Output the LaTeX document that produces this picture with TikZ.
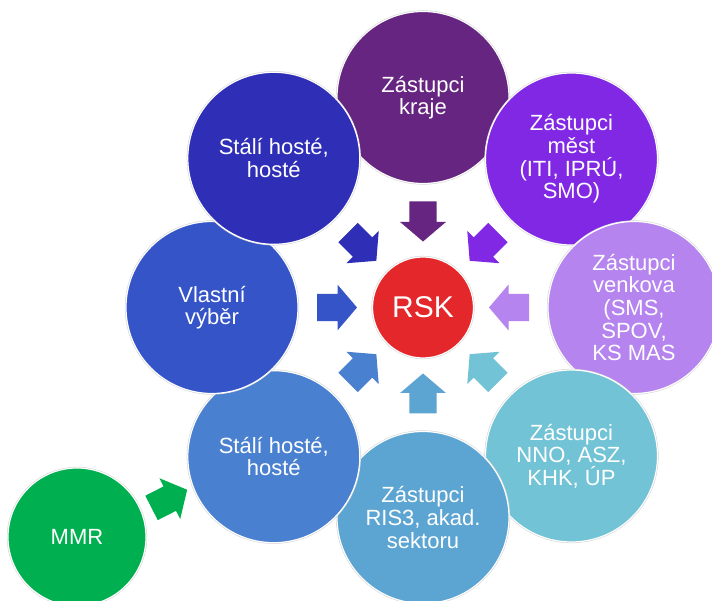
\documentclass[tikz,border=0pt]{standalone}
\usepackage{fontspec}
\setmainfont{Liberation Sans}
\usetikzlibrary{calc}
\definecolor{ckraje}{RGB}{102,37,129}
\definecolor{cmest}{RGB}{129,40,229}
\definecolor{cvenkov}{RGB}{181,132,238}
\definecolor{cnno}{RGB}{114,195,213}
\definecolor{cris}{RGB}{92,165,210}
\definecolor{cstalib}{RGB}{74,128,208}
\definecolor{cvlast}{RGB}{53,84,200}
\definecolor{cstalit}{RGB}{46,46,182}
\definecolor{crsk}{RGB}{228,39,42}
\definecolor{cmmr}{RGB}{0,176,80}
\begin{document}
\begin{tikzpicture}[x=1pt,y=1pt,
  bub/.style={circle, minimum size=172pt, inner sep=0pt, fill=#1, draw=white,
    line width=1.2pt, text=white, align=center,
    font=\fontsize{22}{22.6}\selectfont,
    preaction={draw=black!18, line width=2.2pt}},
  blockarr/.pic={\fill (0,-13.7) -- (20.5,-13.7) -- (20.5,-22.9) -- (40,0)
    -- (20.5,22.9) -- (20.5,13.7) -- (0,13.7) -- cycle;}
]
\useasboundingbox (0,0) rectangle (712,601);
\fill[white] (0,0) rectangle (712,601);
\coordinate (c) at (423,293.5);
% outer ring, drawn clockwise from the top
\node[bub=ckraje] (kraje) at ([shift={(90:210)}]c) {Zástupci\\kraje};
\node[bub=cmest] (mest) at ([shift={(45:210)}]c) {Zástupci\\měst\\(ITI, IPRÚ,\\SMO)};
\node[bub=cvenkov] (venkov) at ([shift={(0:211)}]c) {Zástupci\\venkova\\(SMS,\\SPOV,\\KS MAS};
\node[bub=cnno] (nno) at ([shift={(-45:210)}]c) {Zástupci\\NNO, ASZ,\\KHK, ÚP};
\node[bub=cris] (ris) at ([shift={(-90:210)}]c) {Zástupci\\RIS3, akad.\\sektoru};
\node[bub=cstalib] (stalib) at ([shift={(-135:211)}]c) {Stálí hosté,\\hosté};
\node[bub=cvlast] (vlast) at ([shift={(180:211)}]c) {Vlastní\\výběr};
\node[bub=cstalit] (stalit) at ([shift={(135:211)}]c) {Stálí hosté,\\hosté};
% centre
\node[bub=crsk, minimum size=101pt, font=\fontsize{30}{32}\selectfont] (rsk) at (c) {RSK};
% block arrows from each outer circle towards RSK
\foreach \a/\col in {90/ckraje, 45/cmest, 0/cvenkov, -45/cnno, -90/cris,
                     -135/cstalib, 180/cvlast, 135/cstalit}
  \pic[fill=\col, rotate=\a+180] at ([shift={(\a:106)}]rsk.center) {blockarr};
% MMR
\node[bub=cmmr, minimum size=138pt] (mmr) at (77,64) {MMR};
\pic[fill=cmmr, rotate=27] at ([shift={(21.3:80)}]mmr.center) {blockarr};
\end{tikzpicture}
\end{document}
